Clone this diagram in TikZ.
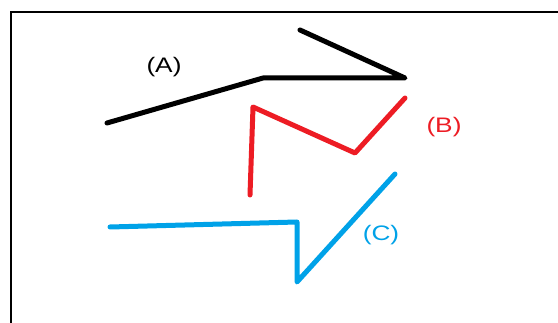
\documentclass[tikz,border=0pt]{standalone}
\usepackage{fontspec}
\setmainfont{Liberation Sans}
\usepackage{graphicx}
\definecolor{paintred}{HTML}{ED1C24}
\definecolor{paintblue}{HTML}{00A2E8}
\begin{document}
\begin{tikzpicture}[x=1pt,y=-1pt,
  stroke/.style={line width=5pt,line cap=round,line join=round},
  lbl/.style={inner sep=0pt,font=\fontsize{21}{21}\selectfont}]
\useasboundingbox (0,0) rectangle (558,323);
\fill[white] (0,0) rectangle (558,323);
% frame
\coordinate (fbl) at (11,323);
\coordinate (ftl) at (11,12);
\coordinate (ftr) at (558,12);
\draw[line width=2.2pt] (fbl) -- (ftl) -- (ftr);
% (A)
\coordinate (a1) at (107,123);
\coordinate (a2) at (263,78);
\coordinate (a3) at (405,78);
\coordinate (a4) at (300,30);
\draw[stroke,black] (a1) -- (a2) -- (a3) -- (a4);
\node[lbl,black] (la) at (164,67) {\scalebox{1.25}[1]{(A)}};
% (B)
\coordinate (b1) at (250,195);
\coordinate (b2) at (253,107);
\coordinate (b3) at (355,153);
\coordinate (b4) at (405,98);
\draw[stroke,paintred] (b1) -- (b2) -- (b3) -- (b4);
\node[lbl,paintred] (lb) at (444,127) {\scalebox{1.25}[1]{(B)}};
% (C)
\coordinate (c1) at (110,227);
\coordinate (c2) at (297,222);
\coordinate (c3) at (297,282);
\coordinate (c4) at (395,174);
\draw[stroke,paintblue] (c1) -- (c2) -- (c3) -- (c4);
\node[lbl,paintblue] (lc) at (381,235) {\scalebox{1.25}[1]{(C)}};
\end{tikzpicture}
\end{document}
